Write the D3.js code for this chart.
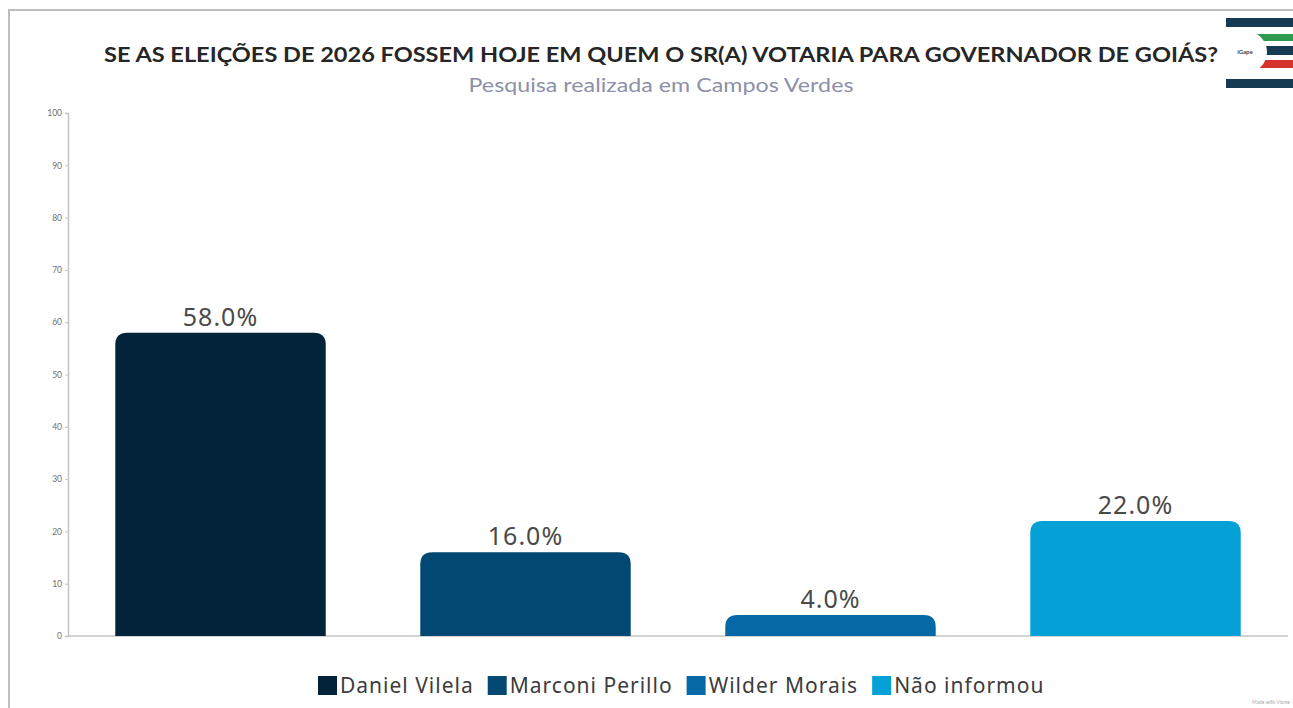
<!DOCTYPE html>
<html>
<head>
<meta charset="utf-8">
<script src="https://cdn.jsdelivr.net/npm/d3@7"></script>
<style>
  body { margin: 0; background: #fff; }
  svg { display: block; }
</style>
</head>
<body>
<div id="chart"></div>
<script>
const candidates = ["Daniel Vilela", "Marconi Perillo", "Wilder Morais", "Não informou"];
const percents = [58.0, 16.0, 4.0, 22.0];
const barColors = ["#03233b", "#034872", "#0768a6", "#05a0d6"];
const yTicks = [0, 10, 20, 30, 40, 50, 60, 70, 80, 90, 100];

const W = 1293, H = 708;
const plot = {left: 68, right: 1288, top: 113, bottom: 636};

const svg = d3.select("#chart").append("svg")
    .attr("width", W)
    .attr("height", H);

// frame of the original screenshot
svg.append("path")
    .attr("d", `M9,${H} V10 H${W}`)
    .attr("fill", "none")
    .attr("stroke", "#bdbdbd")
    .attr("stroke-width", 2);

// titles
svg.append("text")
    .attr("x", 661).attr("y", 62)
    .attr("text-anchor", "middle")
    .attr("textLength", 1114)
    .attr("lengthAdjust", "spacingAndGlyphs")
    .style("font-family", "Lato")
    .style("font-weight", "bold")
    .style("font-size", "21.5px")
    .style("fill", "#262626")
    .text("SE AS ELEIÇÕES DE 2026 FOSSEM HOJE EM QUEM O SR(A) VOTARIA PARA GOVERNADOR DE GOIÁS?");

svg.append("text")
    .attr("x", 661).attr("y", 92)
    .attr("text-anchor", "middle")
    .attr("textLength", 385)
    .attr("lengthAdjust", "spacingAndGlyphs")
    .style("font-family", "Lato")
    .style("font-size", "19.5px")
    .style("fill", "#8d90a8")
    .text("Pesquisa realizada em Campos Verdes");

// logo (rough)
const logo = svg.append("g");
logo.append("rect").attr("x", 1226).attr("y", 18).attr("width", 67).attr("height", 70).attr("fill", "#163a52");
logo.append("rect").attr("x", 1226).attr("y", 27).attr("width", 67).attr("height", 52).attr("fill", "#fff");
logo.append("rect").attr("x", 1255).attr("y", 34).attr("width", 38).attr("height", 7).attr("fill", "#2e9a4e");
logo.append("rect").attr("x", 1255).attr("y", 46).attr("width", 38).attr("height", 9).attr("fill", "#163a52");
logo.append("rect").attr("x", 1255).attr("y", 60).attr("width", 38).attr("height", 8).attr("fill", "#d6332a");
logo.append("circle").attr("cx", 1246).attr("cy", 52).attr("r", 21).attr("fill", "#fff");
logo.append("text").attr("x", 1245).attr("y", 54).attr("text-anchor", "middle")
    .style("font-family", "Lato").style("font-size", "6px").style("font-weight", "bold")
    .style("fill", "#444").text("iGape");

const x = d3.scaleBand()
    .domain(candidates)
    .range([plot.left, plot.right])
    .paddingInner(0.31)
    .paddingOuter(0.155);

const y = d3.scaleLinear()
    .domain([0, 100])
    .range([plot.bottom, plot.top]);

// y axis
const yAxis = svg.append("g")
    .attr("transform", `translate(${plot.left},0)`)
    .call(d3.axisLeft(y).tickValues(yTicks).tickSize(3).tickPadding(3));
yAxis.select(".domain").attr("stroke", "#c4c4c4").attr("stroke-width", 1.5);
yAxis.selectAll(".tick line").attr("stroke", "#c4c4c4");
yAxis.selectAll(".tick text")
    .style("font-family", "Lato")
    .style("font-size", "8.5px")
    .style("fill", "#6f6f6f");

// baseline
svg.append("line")
    .attr("x1", plot.left).attr("x2", plot.right)
    .attr("y1", y(0)).attr("y2", y(0))
    .attr("stroke", "#c4c4c4")
    .attr("stroke-width", 1.5);

const data = candidates.map((c, i) => ({name: c, value: percents[i], color: barColors[i]}));

// bars with rounded top corners
const r = 12;
svg.append("g").selectAll("path")
    .data(data)
    .enter().append("path")
    .attr("d", d => {
        const x0 = x(d.name), x1 = x0 + x.bandwidth();
        const yTop = y(d.value), yb = y(0);
        const rr = Math.min(r, (yb - yTop));
        return `M${x0},${yb} V${yTop + rr} Q${x0},${yTop} ${x0 + rr},${yTop} H${x1 - rr} Q${x1},${yTop} ${x1},${yTop + rr} V${yb} Z`;
    })
    .attr("fill", d => d.color);

// value labels
svg.append("g").selectAll("text")
    .data(data)
    .enter().append("text")
    .attr("x", d => x(d.name) + x.bandwidth() / 2)
    .attr("y", d => y(d.value) - 7)
    .attr("text-anchor", "middle")
    .style("font-family", "Noto Sans")
    .style("font-size", "25px")
    .style("letter-spacing", "1px")
    .style("fill", "#4a4a4a")
    .text(d => d.value.toFixed(1) + "%");

// legend
const legend = svg.append("g");
const items = [];
let lx = 318;
const legendFont = {size: "21px", spacing: "1px"};
const tmp = svg.append("text")
    .style("font-family", "Noto Sans")
    .style("font-size", legendFont.size)
    .style("letter-spacing", legendFont.spacing);
data.forEach(d => {
    tmp.text(d.name);
    const w = tmp.node().getComputedTextLength();
    items.push({d, x: lx});
    lx += 22 + w + 14;
});
tmp.remove();

const li = legend.selectAll("g")
    .data(items)
    .enter().append("g")
    .attr("transform", it => `translate(${it.x},676)`);
li.append("rect")
    .attr("width", 19).attr("height", 19)
    .attr("fill", it => it.d.color);
li.append("text")
    .attr("x", 22).attr("y", 17)
    .style("font-family", "Noto Sans")
    .style("font-size", legendFont.size)
    .style("letter-spacing", legendFont.spacing)
    .style("fill", "#3c3c3c")
    .text(it => it.d.name);

// small credit at bottom right
svg.append("text")
    .attr("x", 1290).attr("y", 704)
    .attr("text-anchor", "end")
    .style("font-family", "Lato")
    .style("font-size", "5px")
    .style("fill", "#aaa")
    .text("Made with Visme");
</script>
</body>
</html>
